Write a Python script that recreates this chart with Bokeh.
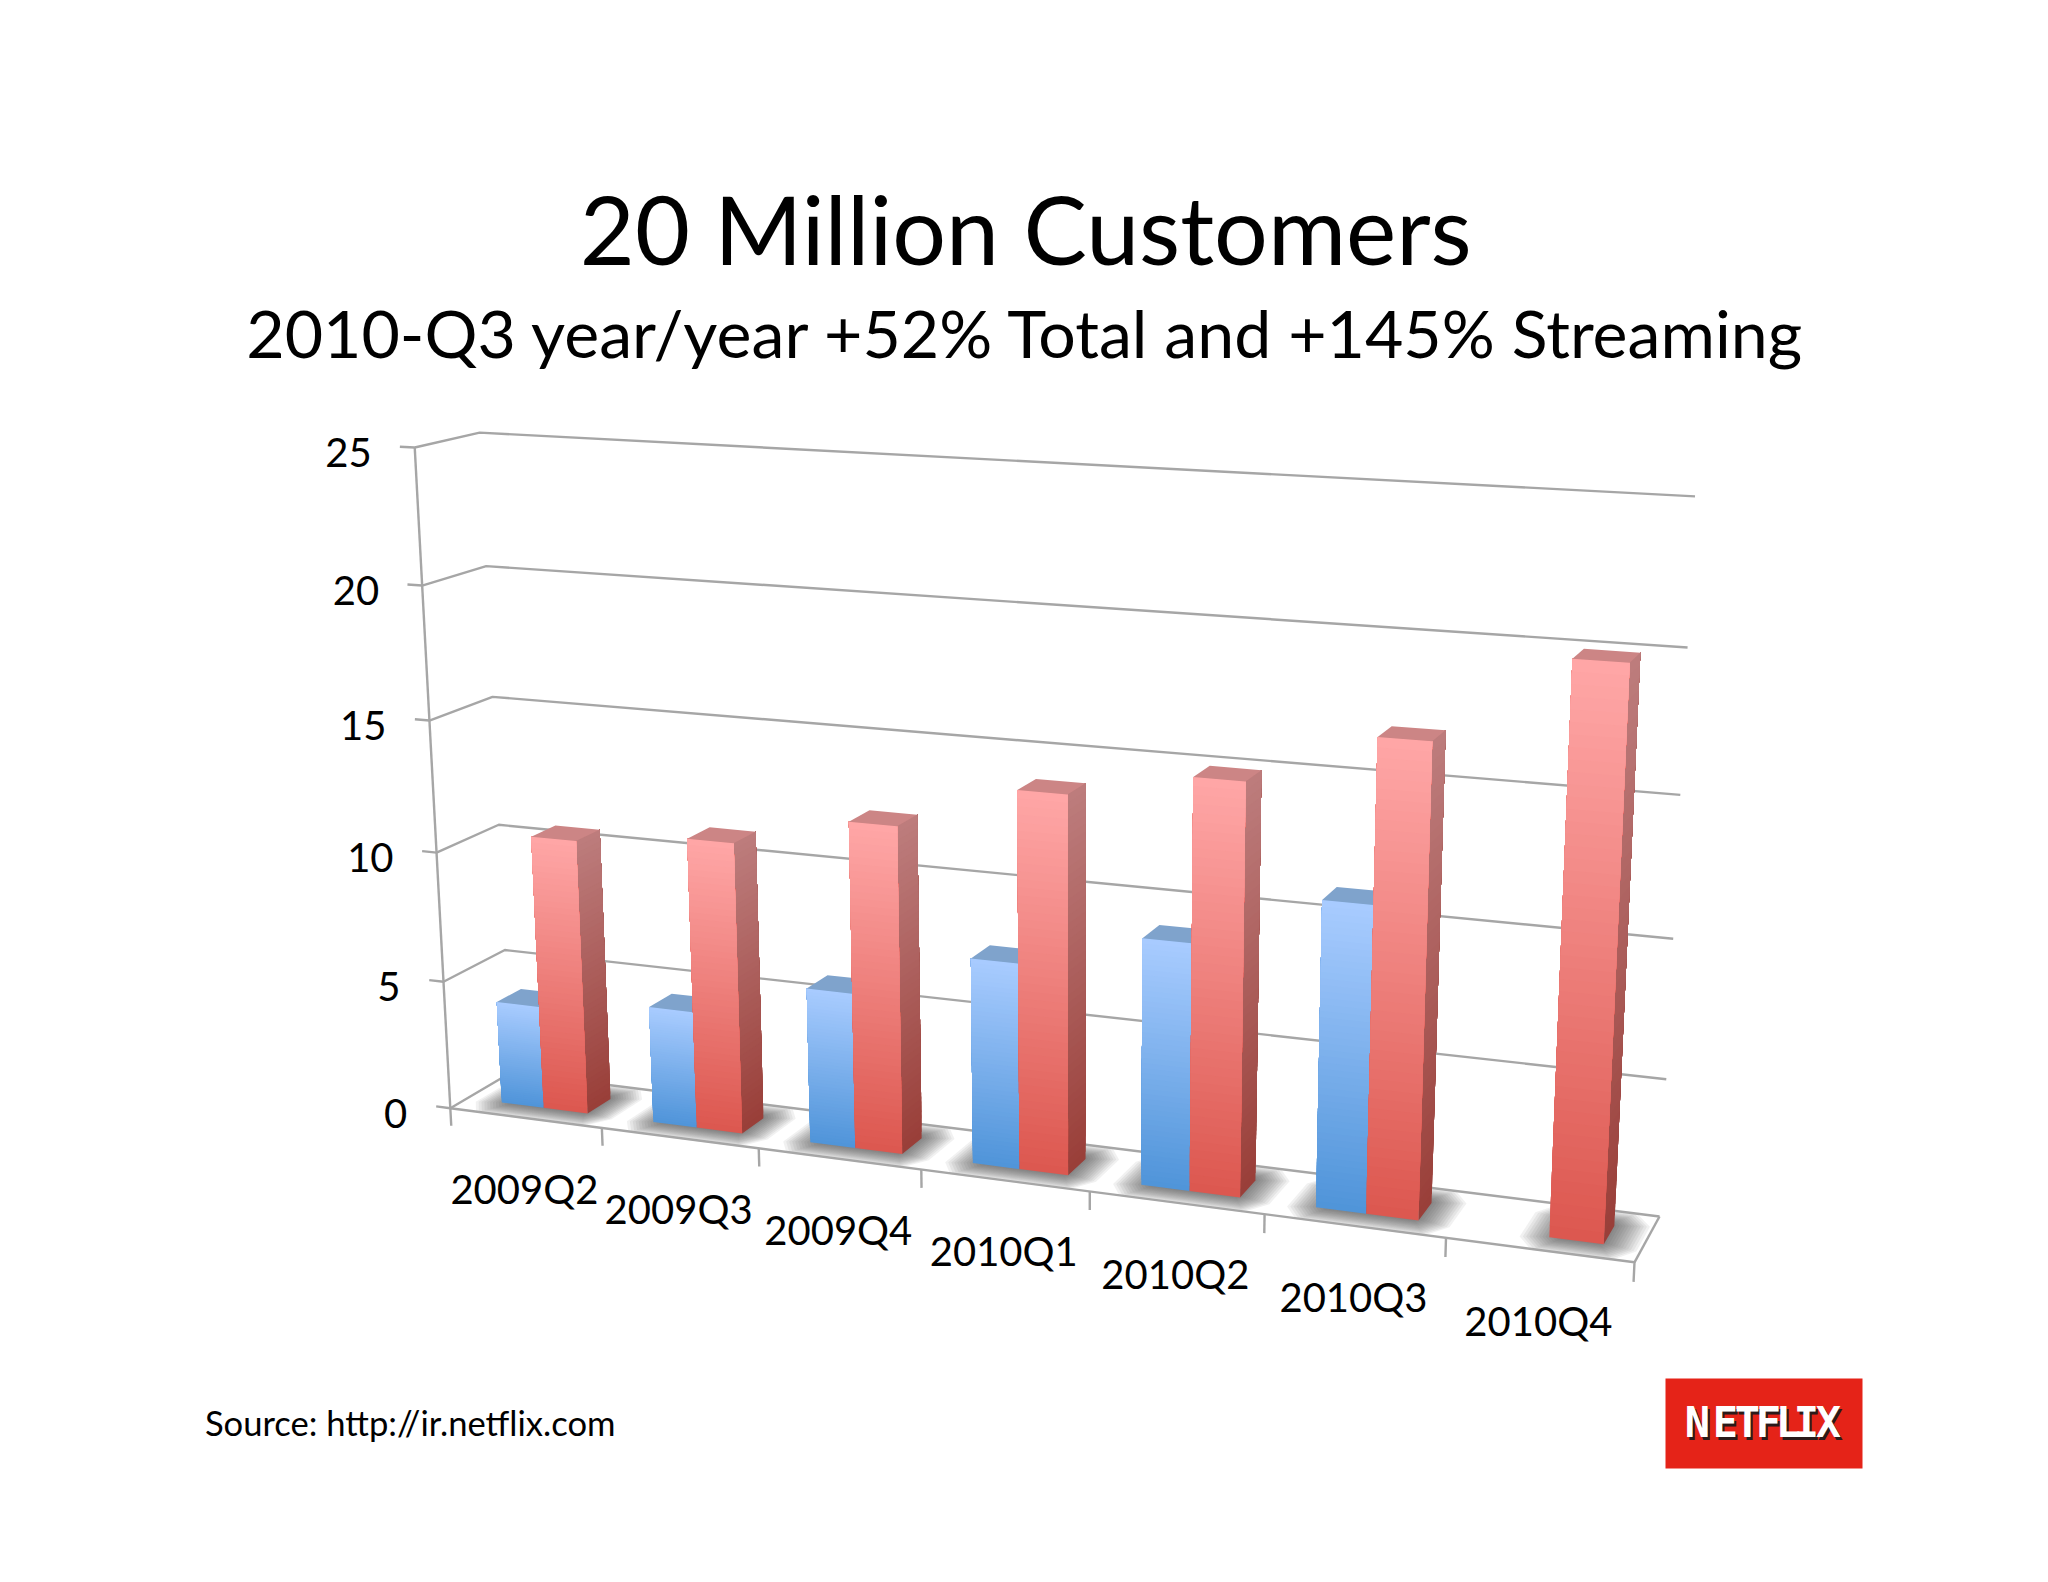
import numpy as np
from bokeh.embed import file_html
from bokeh.resources import INLINE
from bokeh.plotting import figure
from bokeh.models import Range1d, ColumnDataSource
from bokeh.core.properties import value

# ---- data ----
categories = ["2009Q2", "2009Q3", "2009Q4", "2010Q1", "2010Q2", "2010Q3", "2010Q4"]
streaming = [4.0, 4.5, 5.9, 7.7, 9.1, 11.1, None]
total = [10.6, 11.1, 12.3, 14.0, 15.0, 16.9, 20.0]
y_ticks = [0, 5, 10, 15, 20, 25]
title = "20 Million Customers"
subtitle = "2010-Q3 year/year +52% Total and +145% Streaming"
source_text = "Source: http://ir.netflix.com"
logo_letters = list("NETFLIX")

# ---- camera: fitted to the chart's visible frame (u=category, d=depth, v=value) ----
S = 1.306
calib = [
    ((0, 0, 0), (345, 848)), ((0, 0, 5), (338, 750)), ((0, 0, 10), (333, 651)), ((0, 0, 15), (328, 551)),
    ((0, 0, 20), (323, 449)), ((0, 0, 25), (318, 343)),
    ((0, 1, 0), (392, 823)), ((0, 1, 5), (386, 727)), ((0, 1, 10), (381, 631)), ((0, 1, 15), (376, 533)),
    ((0, 1, 20), (372, 433)), ((0, 1, 25), (367, 331)),
    ((7, 1, 0), (1270, 930)), ((7, 1, 5), (1275, 826)), ((7, 1, 10), (1281, 718)), ((7, 1, 15), (1286, 608)),
    ((7, 1, 20), (1292, 495)), ((7, 1, 25), (1298, 380)),
    ((7, 0, 0), (1251, 967)), ((1, 0, 0), (461, 863)), ((2, 0, 0), (581, 879)), ((3, 0, 0), (705, 895)),
    ((4, 0, 0), (835, 912)), ((5, 0, 0), (967, 930)), ((6, 0, 0), (1107, 948)),
]
A, b = [], []
for (u, d, v), (px, py) in calib:
    X, Y = px * S, py * S
    A.append([u, d, v, 1, 0, 0, 0, 0, -X * u, -X * d, -X * v]); b.append(X)
    A.append([0, 0, 0, 0, u, d, v, 1, -Y * u, -Y * d, -Y * v]); b.append(Y)
m = np.linalg.lstsq(np.array(A, float), np.array(b, float), rcond=None)[0]
M = np.append(m, 1.0).reshape(3, 4)


def pr(u, d, v):
    w = M @ np.array([u, d, v, 1.0])
    return float(w[0] / w[2]), float(w[1] / w[2])


def poly(pts):
    q = [pr(*t) for t in pts]
    return [a for a, _ in q], [c for _, c in q]


def lerp(c0, c1, t):
    return "#%02x%02x%02x" % tuple(int(round(a + (e - a) * t)) for a, e in zip(c0, c1))


p = figure(width=2032, height=1566, x_range=Range1d(0, 2032), y_range=Range1d(1566, 0),
           output_backend="svg", toolbar_location=None, min_border=0,
           outline_line_color=None, background_fill_color="#ffffff", border_fill_color="#ffffff")
p.xaxis.visible = False
p.yaxis.visible = False
p.grid.visible = False

n = len(categories)
GRID = "#a6a6a6"
D0, D1 = 0.28, 0.68
U0, U1, U2 = 0.23, 0.51, 0.80

# floor fill
fx, fy = poly([(0, 0, 0), (n, 0, 0), (n, 1, 0), (0, 1, 0)])
p.patch(fx, fy, fill_color="#ffffff", line_color=None)

# shadows
sx, sy = [], []
for i in range(n):
    a0 = U0 if streaming[i] is not None else U1
    for k in range(14):
        t = k / 13
        ua, ub = i + a0 - 0.15 * (1 - t) + 0.06 * t, i + U2 + 0.18 * (1 - t) - 0.02 * t
        da, db = -0.02 + 0.32 * t, 1.0 - 0.3 * t
        c = 0.09 * (1 - t) + 0.01
        cd = 0.22 * (1 - t) + 0.02
        x_, y_ = poly([(ua + c, da, 0), (ub - c, da, 0), (ub, da + cd, 0), (ub, db - cd, 0),
                       (ub - c, db, 0), (ua + c, db, 0), (ua, db - cd, 0), (ua, da + cd, 0)])
        sx.append(x_); sy.append(y_)
p.patches(sx, sy, fill_color="#3c3c3c", fill_alpha=0.07, line_color=None)

# frame and gridlines
lx, ly = [], []
for v in y_ticks:
    x_, y_ = poly([(-0.095, 0, v), (0, 0, v), (0, 1, v), (n, 1, v)])
    lx.append(x_); ly.append(y_)
for pts in ([(0, 0, 0), (0, 0, y_ticks[-1])],
            [(0, 0, -0.7), (0, 0, 0), (n, 0, 0), (n, 0, -0.7)],
            [(n, 0, 0), (n, 1, 0)]):
    x_, y_ = poly(pts)
    lx.append(x_); ly.append(y_)
for i in range(1, n):
    x_, y_ = poly([(i, 0, 0), (i, 0, -0.7)])
    lx.append(x_); ly.append(y_)
p.multi_line(lx, ly, line_color=GRID, line_width=2.4)


# bars: each gradient step runs from its level to the bar's top, painted bottom-up, so no seams show
def bar(u0, u1, val, front, side, top):
    xs, ys, cs = [], [], []
    N = 48
    for k in range(N):
        v0 = val * k / N
        t = (k + 0.5) / N
        x_, y_ = poly([(u1, D0, v0), (u1, D1, v0), (u1, D1, val), (u1, D0, val)])
        xs.append(x_); ys.append(y_); cs.append(lerp(side[0], side[1], t))
    for k in range(N):
        v0 = val * k / N
        t = (k + 0.5) / N
        x_, y_ = poly([(u0, D0, v0), (u1, D0, v0), (u1, D0, val), (u0, D0, val)])
        xs.append(x_); ys.append(y_); cs.append(lerp(front[0], front[1], t))
    x_, y_ = poly([(u0, D0, val), (u1, D0, val), (u1, D1, val), (u0, D1, val)])
    xs.append(x_); ys.append(y_); cs.append(top)
    p.patches(xs="x", ys="y", source=ColumnDataSource(dict(x=xs, y=ys, c=cs)),
              fill_color="c", line_color=None)


BLUE_F = ((0x4f, 0x94, 0xd9), (0xa9, 0xcc, 0xff))
BLUE_S = ((0x3d, 0x6e, 0xa0), (0x7f, 0xa3, 0xcc))
RED_F = ((0xdc, 0x57, 0x4f), (0xff, 0xa7, 0xa7))
RED_S = ((0x99, 0x3e, 0x38), (0xbd, 0x7d, 0x7d))
for i in range(n):
    if streaming[i] is not None:
        bar(i + U0, i + U1, streaming[i], BLUE_F, BLUE_S, "#7fa3cc")
    bar(i + U1, i + U2, total[i], RED_F, RED_S, "#cc8585")

FONT = value("Lato")
# tick labels
px_, py_ = zip(*[pr(v_, 0, 0) for v_ in [i + 0.5 for i in range(n)]])
p.text(x=[a - 1 for a in px_], y=[a + 71 for a in py_], text=categories, text_font=FONT, text_font_size="40px",
       text_align="center", text_baseline="middle", text_color="#000000")
tx, ty = zip(*[pr(0, 0, v) for v in y_ticks])
p.text(x=[a - 43 for a in tx], y=[a + 5 for a in ty], text=[str(v) for v in y_ticks], text_font=FONT,
       text_font_size="40px", text_align="right", text_baseline="middle", text_color="#000000")

# headings
cx = 785 * S
p.text(x=[cx], y=[174.5 * S], text=[title], text_font=FONT, text_font_size="95px",
       text_align="center", text_baseline="middle", text_color="#000000")
p.text(x=[cx + 1], y=[254 * S], text=[subtitle], text_font=FONT, text_font_size="66.2px",
       text_align="center", text_baseline="middle", text_color="#000000")
p.text(x=[156.5 * S], y=[1089 * S], text=[source_text], text_font=FONT, text_font_size="34.6px",
       text_align="left", text_baseline="middle", text_color="#000000")

# logo
p.quad(left=[1665], right=[1862], top=[1378], bottom=[1468], fill_color="#e52318", line_color=None)
lx_ = [1697, 1725, 1747, 1768, 1788, 1806, 1828]
LOGO = value("DejaVu Sans Mono")
p.text(x=[a + 2 for a in lx_], y=[1425] * 7, text=logo_letters, text_font=LOGO, text_font_size="42px",
       text_font_style="bold", text_align="center", text_baseline="middle", text_color="#2a1a1a")
p.text(x=lx_, y=[1422] * 7, text=logo_letters, text_font=LOGO, text_font_size="42px",
       text_font_style="bold", text_align="center", text_baseline="middle", text_color="#ffffff")

open("out.html", "w").write(file_html(p, INLINE))
